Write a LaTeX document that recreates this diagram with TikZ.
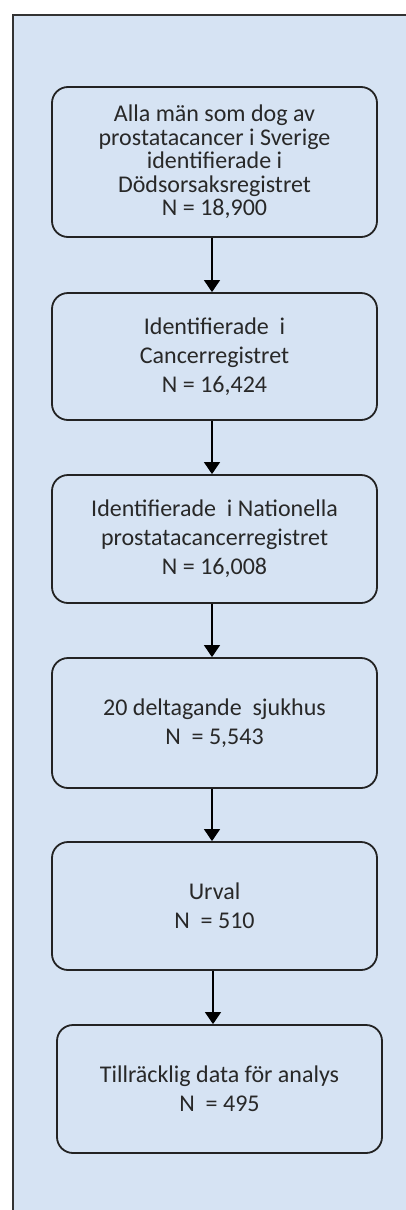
\documentclass[tikz,border=0pt]{standalone}
\usepackage{fontspec}
\setmainfont{Carlito}
\usetikzlibrary{arrows.meta}
\definecolor{panel}{RGB}{214,227,243}
\definecolor{boxline}{RGB}{35,35,35}
\definecolor{txt}{RGB}{40,40,40}
\begin{document}
\begin{tikzpicture}[x=1pt,y=-1pt,
  flowbox/.style={draw=boxline, line width=1.8pt, rounded corners=16pt, minimum width=325pt, text=txt, align=center, font=\fontsize{24}{23.5}\selectfont, inner sep=0pt},
  widebox/.style={flowbox, font=\fontsize{24}{29}\selectfont},
  flowarrow/.style={draw=black, line width=1.2pt, -{Triangle[width=16pt,length=12pt]}}]
\useasboundingbox (0,0) rectangle (406,1210);
\fill[white] (0,0) rectangle (406,1210);
\fill[panel] (13,15) rectangle (406,1210);
\draw[black!80, line width=1.2pt] (13,1210) -- (13,15) -- (406,15);
\node[flowbox, minimum height=150pt] (b1) at (214.5,162) {Alla män som dog av\\prostatacancer i Sverige\\identifierade i\\Dödsorsaksregistret\\N = 18,900};
\node[widebox, minimum height=127pt] (b2) at (214.5,356.5) {Identifierade\ \ i\\Cancerregistret\\N = 16,424};
\node[widebox, minimum height=128pt] (b3) at (214.5,539) {Identifierade\ \ i Nationella\\prostatacancerregistret\\N = 16,008};
\node[widebox, minimum height=130pt] (b4) at (214.5,723) {20 deltagande\ \ sjukhus\\N\ \ = 5,543};
\node[widebox, minimum height=128pt] (b5) at (214.5,906) {Urval\\N\ \ = 510};
\node[widebox, minimum height=128pt] (b6) at (219.5,1089) {Tillräcklig data för analys\\N\ \ = 495};
\draw[flowarrow] (b1.south -| 212,0) -- (b2.north -| 212,0);
\draw[flowarrow] (b2.south -| 212,0) -- (b3.north -| 212,0);
\draw[flowarrow] (b3.south -| 212,0) -- (b4.north -| 212,0);
\draw[flowarrow] (b4.south -| 212,0) -- (b5.north -| 212,0);
\draw[flowarrow] (b5.south -| 213,0) -- (b6.north -| 213,0);
\end{tikzpicture}
\end{document}
